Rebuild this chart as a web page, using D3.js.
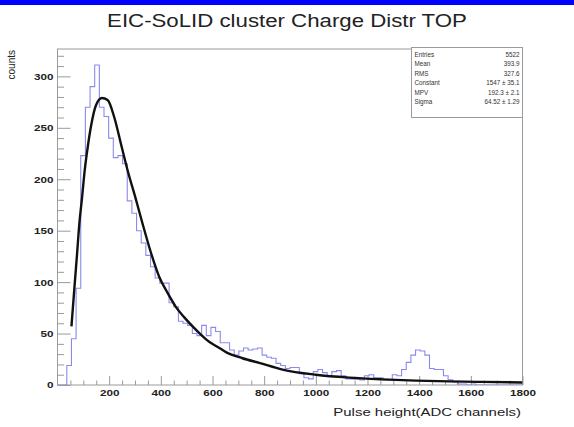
<!DOCTYPE html>
<html><head><meta charset="utf-8">
<script src="https://cdn.jsdelivr.net/npm/d3@7"></script>
<style>html,body{margin:0;padding:0;background:#fff;} svg{display:block;}</style>
</head><body>
<script>
const title = "EIC-SoLID cluster Charge Distr TOP";
const xLabel = "Pulse height(ADC channels)";
const yLabel = "counts";
const xMin = 0, xMax = 1800, binWidth = 18, yMax = 326.6;
const counts = [0,0,19,45,94,223,270,290,311,270,
  261,240,221,223,215,179,167,150,138,126,
  115,104,99,99,80,76,62,60,58,50,
  48,58,48,56,52,41,41,34,29,33,
  36,34,35,36,29,27,26,21,19,16,
  17,17,11,7,6,13,15,12,9,13,
  14,9,6,6,6,5,9,10,7,7,
  5,5,10,9,15,22,29,34,33,29,
  16,15,15,9,5,3,1,1,0,1,
  0,0,0,0,0,0,0,0,0,0];
const fitX = [54,65,75,85,95,105,118,130,149,172,194,220,245,271,304,329,360,394,425,458,490,523,555,587,620,652,716,781,871,1000,1129,1258,1387,1516,1645,1800];
const fitY = [57,93,125,158,182,208,233,252,272,279,277,260,235,209,180,157,130,105,90,76,66,57,49,42,37,32,26,21.5,15,10,7.2,5.5,4.3,3.5,3,2.5];
const xTickValues = [200,400,600,800,1000,1200,1400,1600,1800];
const xMinorValues = d3.range(50,1800,50).filter(v => v % 200 !== 0);
const yTickValues = [0,50,100,150,200,250,300];
const yMinorValues = d3.range(10,326,10).filter(v => v % 50 !== 0);
const statNames = ["Entries","Mean","RMS","Constant","MPV","Sigma"];
const statValues = ["5522","393.9","327.6","1547 \u00b1 35.1","192.3 \u00b1 2.1","64.52 \u00b1 1.29"];

const W = 574, H = 427;
const fr = {l:57.5, r:522.5, t:49, b:385};
const SX = 1.3;
const FONT = "'Liberation Sans', Arial, Helvetica, sans-serif";

const svg = d3.select("body").append("svg").attr("width",W).attr("height",H)
  .style("font-family",FONT);
svg.append("rect").attr("width",W).attr("height",H).attr("fill","#fff");
svg.append("rect").attr("x",0).attr("y",0).attr("width",W).attr("height",5).attr("fill","#0000ff");

const x = d3.scaleLinear().domain([xMin,xMax]).range([fr.l,fr.r]);
const y = d3.scaleLinear().domain([0,yMax]).range([fr.b,fr.t]);

function stretch(sel){
  sel.each(function(){
    const t = d3.select(this);
    const xv = +(t.attr("x")||0);
    t.attr("x", xv/SX).attr("transform", `scale(${SX},1)`);
  });
}

// frame
svg.append("rect").attr("x",fr.l).attr("y",fr.t).attr("width",fr.r-fr.l).attr("height",fr.b-fr.t)
  .attr("fill","none").attr("stroke","#9a9a9a").attr("stroke-width",1);

// axes
const gx = svg.append("g").attr("transform",`translate(0,${fr.b})`);
gx.call(d3.axisBottom(x).tickValues(xTickValues).tickSizeInner(-9).tickSizeOuter(0).tickPadding(5).tickFormat(d3.format("d")));
const gxm = svg.append("g").attr("transform",`translate(0,${fr.b})`);
gxm.call(d3.axisBottom(x).tickValues(xMinorValues).tickSizeInner(-4.5).tickSizeOuter(0).tickFormat(""));
const gy = svg.append("g").attr("transform",`translate(${fr.l},0)`);
gy.call(d3.axisLeft(y).tickValues(yTickValues).tickSizeInner(-13).tickSizeOuter(0).tickPadding(4).tickFormat(d3.format("d")));
const gym = svg.append("g").attr("transform",`translate(${fr.l},0)`);
gym.call(d3.axisLeft(y).tickValues(yMinorValues).tickSizeInner(-6.5).tickSizeOuter(0).tickFormat(""));
[gx,gxm,gy,gym].forEach(g=>{
  g.select(".domain").remove();
  g.selectAll("line").attr("stroke","#9a9a9a");
  g.selectAll("text").attr("fill","#222").style("font-family",FONT).style("font-size","9px").style("font-weight","bold");
});
stretch(gx.selectAll("text"));
stretch(gy.selectAll("text"));

// clip
svg.append("clipPath").attr("id","clip").append("rect")
  .attr("x",fr.l).attr("y",fr.t).attr("width",fr.r-fr.l).attr("height",fr.b-fr.t);

// histogram
const histPts = counts.map((c,i)=>[xMin+i*binWidth, c]);
histPts.push([xMax, counts[counts.length-1]]);
svg.append("path").attr("clip-path","url(#clip)")
  .attr("d", d3.line().x(d=>x(d[0])).y(d=>y(d[1])).curve(d3.curveStepAfter)(histPts))
  .attr("fill","none").attr("stroke","#8a8aee").attr("stroke-width",1.1);

// fit
const fitPts = fitX.map((v,i)=>[v,fitY[i]]);
svg.append("path").attr("clip-path","url(#clip)")
  .attr("d", d3.line().x(d=>x(d[0])).y(d=>y(d[1])).curve(d3.curveMonotoneX)(fitPts))
  .attr("fill","none").attr("stroke","#111").attr("stroke-width",2.4);

// stats box
const sb = {l:411.5, t:47.5, w:111, h:70};
svg.append("rect").attr("x",sb.l).attr("y",sb.t).attr("width",sb.w).attr("height",sb.h)
  .attr("fill","#fff").attr("stroke","#9a9a9a").attr("stroke-width",1);
statNames.forEach((n,i)=>{
  svg.append("text").attr("x",sb.l+3).attr("y",56.5+i*9.5).text(n)
    .style("font-size","6.3px").attr("fill","#333");
  svg.append("text").attr("x",sb.l+sb.w-3).attr("y",56.5+i*9.5).attr("text-anchor","end").text(statValues[i])
    .style("font-size","6.3px").attr("fill","#333");
});

// title
svg.append("g").attr("transform",`translate(287,26.5) scale(1.27,1)`)
  .append("text").attr("text-anchor","middle").text(title)
  .style("font-size","17.5px").attr("fill","#222");

// x label
svg.append("g").attr("transform",`translate(521,416) scale(${SX},1)`)
  .append("text").attr("text-anchor","end").text(xLabel)
  .style("font-size","11.5px").attr("fill","#222");

// y label
svg.append("text").attr("transform",`translate(15,50) rotate(-90)`).attr("text-anchor","end").text(yLabel)
  .style("font-size","10px").attr("fill","#222");
</script>
</body></html>
